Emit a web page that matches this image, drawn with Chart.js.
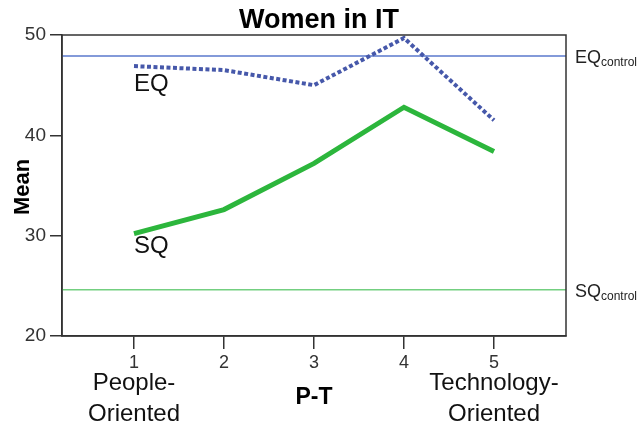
<!DOCTYPE html>
<html>
<head>
<meta charset="utf-8">
<script src="https://cdn.jsdelivr.net/npm/chart.js@4/dist/chart.umd.min.js"></script>
<style>
html,body{margin:0;padding:0;background:#fff;}
#wrap{width:639px;height:426px;position:relative;}
</style>
</head>
<body>
<div id="wrap"><canvas id="c" width="639" height="426"></canvas></div>
<script>
const categories = [1, 2, 3, 4, 5];
const eqValues = [46.9, 46.5, 45.0, 49.7, 41.5];
const sqValues = [30.2, 32.6, 37.2, 42.8, 38.4];
const eqControl = 47.9;
const sqControl = 24.6;
const yTicks = [20, 30, 40, 50];
const xRange = [0.2, 5.8];
const chartTitle = 'Women in IT';
const yTitle = 'Mean';
const xTitle = 'P-T';
const leftEndLabel = ['People-', 'Oriented'];
const rightEndLabel = ['Technology-', 'Oriented'];

const FONT = '"Liberation Sans", Arial, sans-serif';

const extras = {
  id: 'extras',
  afterDraw(chart) {
    const ctx = chart.ctx;
    const a = chart.chartArea;
    const xs = chart.scales.x, ys = chart.scales.y;
    ctx.save();
    // frame
    ctx.strokeStyle = '#333';
    ctx.lineWidth = 1.5;
    ctx.strokeRect(a.left, a.top, a.right - a.left, a.bottom - a.top);
    // title
    ctx.fillStyle = '#000';
    ctx.textAlign = 'center';
    ctx.textBaseline = 'alphabetic';
    ctx.font = 'bold 27px ' + FONT;
    ctx.fillText(chartTitle, 319, 28);
    // y title
    ctx.save();
    ctx.translate(29, 187);
    ctx.rotate(-Math.PI / 2);
    ctx.font = 'bold 22px ' + FONT;
    ctx.fillText(yTitle, 0, 0);
    ctx.restore();
    // x title
    ctx.font = 'bold 23px ' + FONT;
    ctx.fillText(xTitle, xs.getPixelForValue(categories[2]), 404);
    // end labels
    ctx.font = '24px ' + FONT;
    ctx.fillStyle = '#111';
    const xl = xs.getPixelForValue(categories[0]);
    const xr = xs.getPixelForValue(categories[categories.length - 1]);
    ctx.fillText(leftEndLabel[0], xl, 390);
    ctx.fillText(leftEndLabel[1], xl, 421);
    ctx.fillText(rightEndLabel[0], xr, 390);
    ctx.fillText(rightEndLabel[1], xr, 421);
    // series labels
    ctx.textAlign = 'left';
    ctx.textBaseline = 'middle';
    ctx.font = '24px ' + FONT;
    ctx.fillText('EQ', xl, ys.getPixelForValue(eqValues[0]) + 18);
    ctx.fillText('SQ', xl, ys.getPixelForValue(sqValues[0]) + 13);
    // control labels
    const drawCtl = (main, y) => {
      ctx.font = '18px ' + FONT;
      ctx.fillStyle = '#222';
      ctx.fillText(main, a.right + 9, y);
      const w = ctx.measureText(main).width;
      ctx.font = '12px ' + FONT;
      ctx.fillText('control', a.right + 9 + w, y + 5);
    };
    drawCtl('EQ', ys.getPixelForValue(eqControl) + 2);
    drawCtl('SQ', ys.getPixelForValue(sqControl) + 2);
    ctx.restore();
  }
};

new Chart(document.getElementById('c'), {
  type: 'line',
  data: {
    datasets: [
      {
        label: 'SQ',
        data: categories.map((c, i) => ({x: c, y: sqValues[i]})),
        borderColor: '#2cb63c',
        borderWidth: 5,
        pointRadius: 0,
        fill: false,
        tension: 0
      },
      {
        label: 'EQ',
        data: categories.map((c, i) => ({x: c, y: eqValues[i]})),
        borderColor: '#4658aa',
        borderWidth: 4,
        borderDash: [4, 2.5],
        borderCapStyle: 'butt',
        pointRadius: 0,
        fill: false,
        tension: 0
      },
      {
        label: 'EQcontrol',
        data: xRange.map(x => ({x: x, y: eqControl})),
        borderColor: '#5a78cc',
        borderWidth: 1.5,
        pointRadius: 0,
        fill: false
      },
      {
        label: 'SQcontrol',
        data: xRange.map(x => ({x: x, y: sqControl})),
        borderColor: '#73cf80',
        borderWidth: 1.5,
        pointRadius: 0,
        fill: false
      }
    ]
  },
  options: {
    responsive: false,
    animation: false,
    devicePixelRatio: 1,
    layout: {padding: {top: 35, right: 73, left: 0, bottom: 0}},
    plugins: {legend: {display: false}, tooltip: {enabled: false}, title: {display: false}},
    scales: {
      x: {
        type: 'linear',
        min: xRange[0],
        max: xRange[1],
        afterBuildTicks(s) { s.ticks = categories.map(v => ({value: v})); },
        afterFit(s) { s.height = 90; },
        grid: {drawOnChartArea: false, drawTicks: true, tickLength: 13, color: '#333', lineWidth: 1.5},
        border: {display: true, color: '#333', width: 1.5},
        ticks: {color: '#333', font: {family: FONT, size: 18}, padding: 3, autoSkip: false, maxRotation: 0}
      },
      y: {
        min: 20,
        max: 50,
        afterBuildTicks(s) { s.ticks = yTicks.map(v => ({value: v})); },
        afterFit(s) { s.width = 62; },
        grid: {drawOnChartArea: false, drawTicks: true, tickLength: 12, color: '#333', lineWidth: 1.5},
        border: {display: true, color: '#333', width: 1.5},
        ticks: {color: '#333', font: {family: FONT, size: 19}, padding: 4}
      }
    }
  },
  plugins: [extras]
});
</script>
</body>
</html>
